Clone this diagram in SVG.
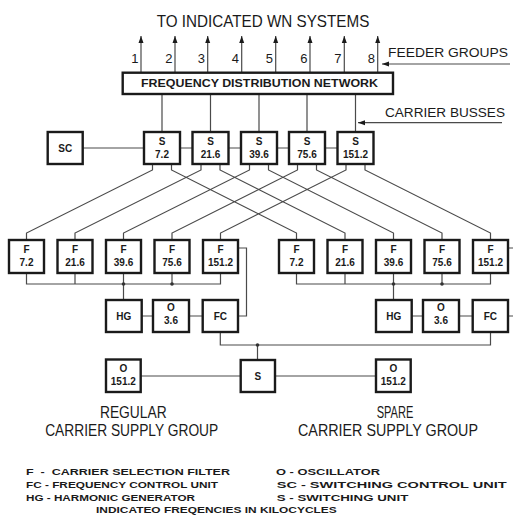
<svg xmlns="http://www.w3.org/2000/svg" width="513" height="516" viewBox="0 0 513 516">
<style>
.box{fill:#fff;stroke:#1a1a1a;stroke-width:2.4}
.ln{fill:none;stroke:#4a4a4a;stroke-width:1.2}
.lb{font-family:"Liberation Sans",Arial,sans-serif;font-size:10px;font-weight:bold;fill:#1a1a1a;text-anchor:middle}
.big{font-family:"Liberation Sans",Arial,sans-serif;fill:#1a1a1a}
.lg{font-family:"Liberation Sans",Arial,sans-serif;font-size:9.5px;font-weight:bold;fill:#1a1a1a}
.dot{fill:#333}
</style>
<defs>
<marker id="ah" markerWidth="8" markerHeight="8" refX="7" refY="4" orient="auto" markerUnits="userSpaceOnUse">
<path d="M0,1.5 L7,4 L0,6.5 Z" fill="#1a1a1a"/>
</marker>
</defs>
<rect width="513" height="516" fill="#fff"/>

<!-- titles -->
<text class="big" x="156.7" y="26.7" font-size="17" textLength="212.6" lengthAdjust="spacingAndGlyphs">TO INDICATED WN SYSTEMS</text>
<text class="big" x="388" y="57.3" font-size="12.5" textLength="120" lengthAdjust="spacingAndGlyphs">FEEDER GROUPS</text>
<text class="big" x="385" y="117" font-size="12.5" textLength="120" lengthAdjust="spacingAndGlyphs">CARRIER BUSSES</text>

<g id="connectors">
<!-- feeder outputs -->
<g marker-end="url(#ah)">
<line class="ln" x1="141" y1="72.7" x2="141" y2="36"/>
<line class="ln" x1="175" y1="72.7" x2="175" y2="36"/>
<line class="ln" x1="207.7" y1="72.7" x2="207.7" y2="36"/>
<line class="ln" x1="241.7" y1="72.7" x2="241.7" y2="36"/>
<line class="ln" x1="275.7" y1="72.7" x2="275.7" y2="36"/>
<line class="ln" x1="310" y1="72.7" x2="310" y2="36"/>
<line class="ln" x1="344.3" y1="72.7" x2="344.3" y2="36"/>
<line class="ln" x1="377.7" y1="72.7" x2="377.7" y2="36"/>
<line class="ln" x1="510" y1="64" x2="382" y2="64"/>
<line class="ln" x1="502" y1="122.7" x2="358" y2="122.7"/>
</g>
<!-- FDN to S -->
<path class="ln" d="M162,94V132 M210.5,94V132 M259,94V132 M307,94V132 M355.5,94V132"/>
<!-- SC and S chain -->
<path class="ln" d="M82.7,148H144 M180,148H192.5 M228.5,148H241 M277,148H289 M325,148H337.5"/>
<!-- diagonals -->
<path class="ln" d="M152.5,164V170L26.5,233V240 M171.5,164V170L296.5,233V240
M201,164V170L75,233V240 M220,164V170L345,233V240
M249.5,164V170L123.5,233V240 M268.5,164V170L393.5,233V240
M297.5,164V170L172,233V240 M316.5,164V170L442,233V240
M346,164V170L220.5,233V240 M365,164V170L490.5,233V240"/>
<!-- filter buses -->
<path class="ln" d="M26.5,273V284H220.5V273 M75,273V284 M123.5,273V300 M172,273V284"/>
<path class="ln" d="M296.5,273V284H490.5V273 M345,273V284 M393.5,273V300 M442,273V284"/>
<!-- HG-O-FC -->
<path class="ln" d="M141.7,316H153 M189,316H202.7 M411.7,316H423 M459,316H472.7"/>
<!-- FC loops -->
<path class="ln" d="M238,316H246.5V248H238.2 M508,316H516.5V248H508.2"/>
<!-- FC to S -->
<path class="ln" d="M220.3,332V345H490.5V332 M257.5,345V360"/>
<path class="ln" d="M140.7,376H240.7 M275,376H376"/>
<circle class="dot" cx="123.5" cy="284" r="1.8"/>
<circle class="dot" cx="172" cy="284" r="1.8"/>
<circle class="dot" cx="393.5" cy="284" r="1.8"/>
<circle class="dot" cx="442" cy="284" r="1.8"/>
<circle class="dot" cx="257.5" cy="345" r="1.8"/>
</g>

<!-- feeder numbers -->
<g class="big" font-size="13" text-anchor="end">
<text x="138.5" y="63">1</text><text x="172.5" y="63">2</text><text x="205" y="63">3</text><text x="239" y="63">4</text>
<text x="273" y="63">5</text><text x="307.5" y="63">6</text><text x="341.5" y="63">7</text><text x="375" y="63">8</text>
</g>

<g id="fdn"><rect class="box" x="122.7" y="72.7" width="270.3" height="21.3"/>
<text class="lb" x="259.5" y="86.7" font-size="9.5" textLength="237" lengthAdjust="spacingAndGlyphs">FREQUENCY DISTRIBUTION NETWORK</text></g>

<g id="sc"><rect class="box" x="47.7" y="132" width="35" height="32"/><text class="lb" x="65.2" y="152" font-size="11">SC</text></g>

<g id="s1"><rect class="box" x="144" y="132" width="36" height="32"/><text class="lb" x="162" y="145">S</text><text class="lb" x="162" y="157.7">7.2</text></g>
<g id="s2"><rect class="box" x="192.5" y="132" width="36" height="32"/><text class="lb" x="210.5" y="145">S</text><text class="lb" x="210.5" y="157.7">21.6</text></g>
<g id="s3"><rect class="box" x="241" y="132" width="36" height="32"/><text class="lb" x="259" y="145">S</text><text class="lb" x="259" y="157.7">39.6</text></g>
<g id="s4"><rect class="box" x="289" y="132" width="36" height="32"/><text class="lb" x="307" y="145">S</text><text class="lb" x="307" y="157.7">75.6</text></g>
<g id="s5"><rect class="box" x="337.5" y="132" width="36" height="32"/><text class="lb" x="355.5" y="145">S</text><text class="lb" x="355.5" y="157.7">151.2</text></g>

<g id="fl1"><rect class="box" x="9" y="240" width="35" height="33"/><text class="lb" x="26.5" y="253.3">F</text><text class="lb" x="26.5" y="266">7.2</text></g>
<g id="fl2"><rect class="box" x="57.5" y="240" width="35" height="33"/><text class="lb" x="75" y="253.3">F</text><text class="lb" x="75" y="266">21.6</text></g>
<g id="fl3"><rect class="box" x="106" y="240" width="35" height="33"/><text class="lb" x="123.5" y="253.3">F</text><text class="lb" x="123.5" y="266">39.6</text></g>
<g id="fl4"><rect class="box" x="154.5" y="240" width="35" height="33"/><text class="lb" x="172" y="253.3">F</text><text class="lb" x="172" y="266">75.6</text></g>
<g id="fl5"><rect class="box" x="203" y="240" width="35" height="33"/><text class="lb" x="220.5" y="253.3">F</text><text class="lb" x="220.5" y="266">151.2</text></g>

<g id="fr1"><rect class="box" x="279" y="240" width="35" height="33"/><text class="lb" x="296.5" y="253.3">F</text><text class="lb" x="296.5" y="266">7.2</text></g>
<g id="fr2"><rect class="box" x="327.5" y="240" width="35" height="33"/><text class="lb" x="345" y="253.3">F</text><text class="lb" x="345" y="266">21.6</text></g>
<g id="fr3"><rect class="box" x="376" y="240" width="35" height="33"/><text class="lb" x="393.5" y="253.3">F</text><text class="lb" x="393.5" y="266">39.6</text></g>
<g id="fr4"><rect class="box" x="424.5" y="240" width="35" height="33"/><text class="lb" x="442" y="253.3">F</text><text class="lb" x="442" y="266">75.6</text></g>
<g id="fr5"><rect class="box" x="473" y="240" width="35" height="33"/><text class="lb" x="490.5" y="253.3">F</text><text class="lb" x="490.5" y="266">151.2</text></g>

<g id="hgl"><rect class="box" x="106" y="300" width="35.7" height="32"/><text class="lb" x="123.8" y="320">HG</text></g>
<g id="ol"><rect class="box" x="153" y="300" width="36" height="32"/><text class="lb" x="171" y="311">O</text><text class="lb" x="171" y="324">3.6</text></g>
<g id="fcl"><rect class="box" x="202.7" y="300" width="35.3" height="32"/><text class="lb" x="220.3" y="320">FC</text></g>
<g id="hgr"><rect class="box" x="376" y="300" width="35.7" height="32"/><text class="lb" x="393.8" y="320">HG</text></g>
<g id="or"><rect class="box" x="423" y="300" width="36" height="32"/><text class="lb" x="441" y="311">O</text><text class="lb" x="441" y="324">3.6</text></g>
<g id="fcr"><rect class="box" x="472.7" y="300" width="35.3" height="32"/><text class="lb" x="490.3" y="320">FC</text></g>

<g id="o151l"><rect class="box" x="106" y="359.5" width="34.7" height="32.5"/><text class="lb" x="123.3" y="372">O</text><text class="lb" x="123.3" y="384.5" font-size="9">151.2</text></g>
<g id="sw"><rect class="box" x="240.7" y="360" width="34.3" height="32"/><text class="lb" x="257.8" y="380">S</text></g>
<g id="o151r"><rect class="box" x="376" y="359.5" width="34.7" height="32.5"/><text class="lb" x="393.3" y="372">O</text><text class="lb" x="393.3" y="384.5" font-size="9">151.2</text></g>

<g class="big" font-size="16.5" text-anchor="middle">
<text x="133.3" y="418.3" textLength="66.7" lengthAdjust="spacingAndGlyphs">REGULAR</text>
<text x="131.7" y="436" textLength="173" lengthAdjust="spacingAndGlyphs">CARRIER SUPPLY GROUP</text>
<text x="395" y="418.3" textLength="36.7" lengthAdjust="spacingAndGlyphs">SPARE</text>
<text x="388" y="436" textLength="180" lengthAdjust="spacingAndGlyphs">CARRIER SUPPLY GROUP</text>
</g>

<g id="legend">
<text class="lg" x="26" y="475" textLength="204" lengthAdjust="spacingAndGlyphs" xml:space="preserve">F  -  CARRIER SELECTION FILTER</text>
<text class="lg" x="276" y="475" textLength="104" lengthAdjust="spacingAndGlyphs">O - OSCILLATOR</text>
<text class="lg" x="26" y="487.7" textLength="192" lengthAdjust="spacingAndGlyphs">FC - FREQUENCY CONTROL UNIT</text>
<text class="lg" x="276.7" y="487.7" textLength="230" lengthAdjust="spacingAndGlyphs">SC - SWITCHING CONTROL UNIT</text>
<text class="lg" x="26" y="500.7" textLength="169" lengthAdjust="spacingAndGlyphs">HG - HARMONIC GENERATOR</text>
<text class="lg" x="276.7" y="500.7" textLength="131.6" lengthAdjust="spacingAndGlyphs">S - SWITCHING UNIT</text>
<text class="lg" x="96" y="513.3" textLength="240.7" lengthAdjust="spacingAndGlyphs">INDICATEO FREQENCIES IN KILOCYCLES</text>
</g>
</svg>
